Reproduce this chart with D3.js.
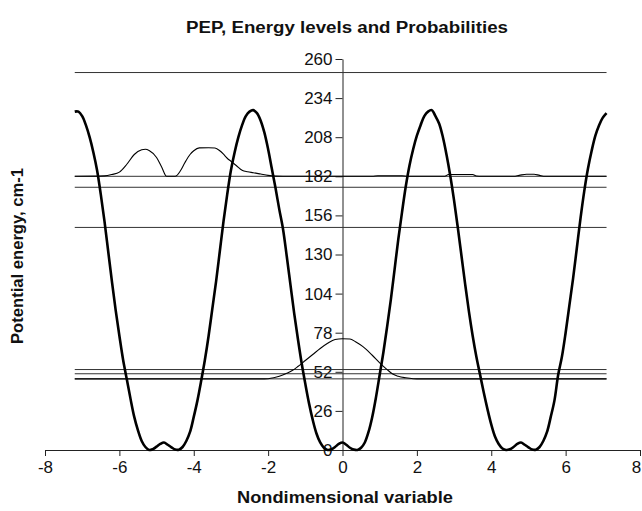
<!DOCTYPE html>
<html>
<head>
<meta charset="utf-8">
<script src="https://cdn.jsdelivr.net/npm/d3@7"></script>
<style>
  body { margin: 0; background: #fff; }
  text { font-family: "Liberation Sans", Arial, sans-serif; fill: #111; }
</style>
</head>
<body>
<div id="chart"></div>
<script>
// potential energy profile (x, V)
var potX = [-7.2,-7.1,-7.0,-6.9,-6.8,-6.7,-6.6,-6.5,-6.4,-6.3,-6.2,-6.1,-6.0,-5.9,-5.8,-5.7,-5.6,-5.5,-5.4,-5.3,-5.2,-5.1,-5.0,-4.9,-4.8,-4.7,-4.6,-4.5,-4.4,-4.3,-4.2,-4.1,-4.0,-3.9,-3.8,-3.7,-3.6,-3.5,-3.4,-3.3,-3.2,-3.1,-3.0,-2.9,-2.8,-2.7,-2.6,-2.5,-2.4,
            -2.3,-2.2,-2.1,-2.0,-1.9,-1.8,-1.7,-1.6,-1.5,-1.4,-1.3,-1.2,-1.1,-1.0,-0.9,-0.8,-0.7,-0.6,-0.5,-0.4,-0.3,-0.2,-0.1,0.0,0.1,0.2,0.3,0.4,0.5,0.6,0.7,0.8,0.9,1.0,1.1,1.2,1.3,1.4,1.5,1.6,1.7,1.8,1.9,2.0,2.1,2.2,2.3,2.4,
            2.5,2.6,2.7,2.8,2.9,3.0,3.1,3.2,3.3,3.4,3.5,3.6,3.7,3.8,3.9,4.0,4.1,4.2,4.3,4.4,4.5,4.6,4.7,4.8,4.9,5.0,5.1,5.2,5.3,5.4,5.5,5.6,5.7,5.8,5.9,6.0,6.1,6.2,6.3,6.4,6.5,6.6,6.7,6.8,6.9,7.0,7.1];
var potV = [225,225,222,216,208,198,186,170,152,132,112,93,76,60,47,34,22,13,6,2,0,0.6,2.2,4,5,3.5,1.8,0.3,0.2,2,6,12,22,33,46,60,76,94,112,132,152,170,186,198,208,216,222,225,226,
            224,219,211,200,187,174,160,147,129,110,91,74,58,44,31,20,11,5,1.5,0,0.5,2,4,5,3.5,1.5,0.3,0,1.5,5,12,22,35,50,65,82,100,120,140,158,175,189,200,209,216,222,225,226,
            222,217,208,196,182,166,148,129,110,92,76,62,50,38,27,17,9,4,1,0,0.5,2,4,5,3.5,1.8,0.3,0.2,2,6,12,22,33,50,62,78,96,114,134,154,172,187,199,209,216,221,224];

// energy levels, cm-1
var levels = [47.3, 50.7, 53.5, 148, 174.7, 182, 251];
var levelRange = [-7.2, 7.1];

// probability density drawn on top of its level
var probHiX = [-7.2,-6.4,-6.2,-6.0,-5.8,-5.6,-5.4,-5.3,-5.2,-5.0,-4.86,-4.73,-4.5,-4.35,-4.24,-4.1,-4.0,-3.85,-3.6,-3.43,-3.3,-3.2,-3.1,-3.0,-2.85,-2.7,-2.55,-2.4,-2.2,-2.0,-1.8,-1.6,0.8,0.95,1.6,1.75,2.75,2.85,3.5,3.6,3.75,4.6,4.75,4.95,5.15,5.3,5.45,7.1];
var probHiV = [182,182.3,183.2,184.8,190,196.5,199.6,200,199.2,194.5,188,182,182,186,191,196.5,199,200.9,201,200.8,199,196.7,194,192,189,186,185,184.4,183.5,182.6,182.1,182,182,182.4,182.4,182,182,183.2,183.2,182.2,182,182,182.6,183.4,183.4,182.6,182,182];
var probLoX = [-7.2,-2.1,-2.0,-1.85,-1.7,-1.5,-1.34,-1.2,-1.0,-0.8,-0.6,-0.4,-0.2,0.0,0.2,0.35,0.55,0.8,1.0,1.2,1.35,1.5,1.7,1.9,2.0,7.1];
var probLoV = [47.3,47.3,47.4,48,49,51,53,55.5,59.5,63.5,67.5,71,73.5,74,73.8,72,68.7,63,58,53.5,50.5,49,48,47.4,47.3,47.3];

var xTicks = [-8,-6,-4,-2,0,2,4,6,8];
var yTicks = [0,26,52,78,104,130,156,182,208,234,260];

var W = 642, H = 511;
var svg = d3.select('#chart').append('svg')
    .attr('width', W)
    .attr('height', H);

var x = d3.scaleLinear().domain([-8, 8]).range([45, 640]);
var y = d3.scaleLinear().domain([0, 260]).range([450, 59]);

// axes (plain hyphen for negatives, like the original)
var xAxis = d3.axisBottom(x).tickValues(xTicks)
    .tickFormat(function(d) { return String(d); })
    .tickSize(6).tickSizeOuter(0).tickPadding(5);
var yAxis = d3.axisLeft(y).tickValues(yTicks)
    .tickFormat(function(d) { return String(d); })
    .tickSize(7).tickSizeOuter(0).tickPadding(3);

var gx = svg.append('g')
    .attr('transform', 'translate(0,' + y(0) + ')')
    .call(xAxis);
var gy = svg.append('g')
    .attr('transform', 'translate(' + x(0) + ',0)')
    .call(yAxis);

[gx, gy].forEach(function(g) {
    g.select('.domain').attr('stroke', '#222');
    g.selectAll('.tick line').attr('stroke', '#222');
    g.selectAll('.tick text')
        .style('font-family', '"Liberation Sans", Arial, sans-serif')
        .style('font-size', '17px')
        .attr('fill', '#111');
});
// keep the last label inside the window
gx.selectAll('.tick text').filter(function(d) { return d === 8; })
    .attr('dx', '-4');

// energy levels
svg.append('g').selectAll('line')
    .data(levels)
    .enter().append('line')
    .attr('x1', x(levelRange[0]))
    .attr('x2', x(levelRange[1]))
    .attr('y1', function(d) { return y(d); })
    .attr('y2', function(d) { return y(d); })
    .attr('stroke', '#333')
    .attr('stroke-width', 1);

var line = d3.line()
    .x(function(d) { return x(d[0]); })
    .y(function(d) { return y(d[1]); })
    .curve(d3.curveMonotoneX);

function pairs(xs, vs) {
    return xs.map(function(v, i) { return [v, vs[i]]; });
}

// probabilities
svg.append('path')
    .attr('d', line(pairs(probHiX, probHiV)))
    .attr('fill', 'none')
    .attr('stroke', '#000')
    .attr('stroke-width', 1.1);
svg.append('path')
    .attr('d', line(pairs(probLoX, probLoV)))
    .attr('fill', 'none')
    .attr('stroke', '#000')
    .attr('stroke-width', 1.1);

// potential
svg.append('path')
    .attr('d', d3.line()
        .x(function(d) { return x(d[0]); })
        .y(function(d) { return y(d[1]); })
        .curve(d3.curveCatmullRom)(pairs(potX, potV)))
    .attr('fill', 'none')
    .attr('stroke', '#000')
    .attr('stroke-width', 2.6)
    .attr('stroke-linejoin', 'round');

// titles
svg.append('text')
    .attr('x', 347)
    .attr('y', 33)
    .attr('text-anchor', 'middle')
    .attr('textLength', 322)
    .attr('lengthAdjust', 'spacingAndGlyphs')
    .style('font-size', '16px')
    .style('font-weight', 'bold')
    .text('PEP, Energy levels and Probabilities');

svg.append('text')
    .attr('x', 345)
    .attr('y', 503)
    .attr('text-anchor', 'middle')
    .attr('textLength', 216)
    .attr('lengthAdjust', 'spacingAndGlyphs')
    .style('font-size', '17px')
    .style('font-weight', 'bold')
    .text('Nondimensional variable');

svg.append('text')
    .attr('transform', 'translate(23,256) rotate(-90)')
    .attr('text-anchor', 'middle')
    .attr('textLength', 176)
    .attr('lengthAdjust', 'spacingAndGlyphs')
    .style('font-size', '16px')
    .style('font-weight', 'bold')
    .text('Potential energy, cm-1');
</script>
</body>
</html>
